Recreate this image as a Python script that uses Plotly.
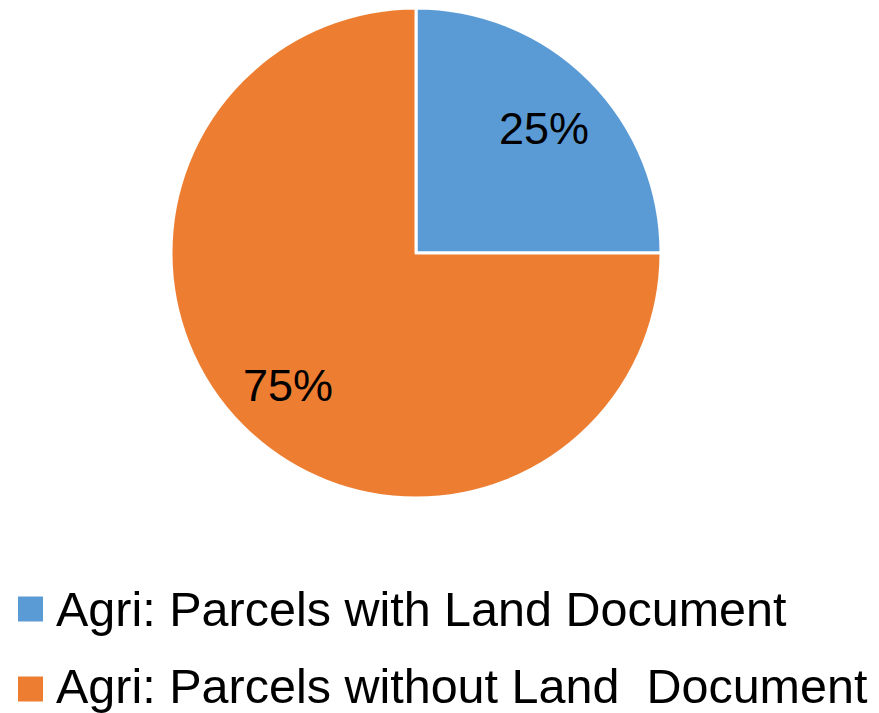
import math
import plotly.graph_objects as go

labels = ["Agri: Parcels with Land Document", "Agri: Parcels without Land  Document"]
values = [25, 75]
colors = ["#5B9BD5", "#ED7D31"]

W, H = 879, 713
font = "Liberation Sans, Arial, sans-serif"

# pie geometry (pixels)
cx, cy, r = 416, 253, 245

fig = go.Figure()
fig.add_trace(go.Pie(
    labels=labels,
    values=values,
    sort=False,
    direction="clockwise",
    rotation=0,
    marker=dict(colors=colors, line=dict(color="white", width=3)),
    textinfo="none",
    showlegend=False,
    hoverinfo="label+percent",
    domain=dict(x=[(cx - r) / W, (cx + r) / W], y=[1 - (cy + r) / H, 1 - (cy - r) / H]),
))

# percentage labels placed on each slice's bisector
total = sum(values)
cum = 0
for v in values:
    mid = (cum + v / 2) / total * 2 * math.pi
    cum += v
    d = 0.74 * r
    px = cx + d * math.sin(mid)
    py = cy - d * math.cos(mid) + 4
    fig.add_annotation(xref="paper", yref="paper", x=px / W, y=1 - py / H,
                       xanchor="center", yanchor="middle", showarrow=False,
                       text=f"{round(v / total * 100)}%",
                       font=dict(family=font, size=45, color="black"))

# Legend drawn manually (large square keys like the original)
rows_y = [609, 686]
keys_y = [609, 689]
for lab, col, yc, yk in zip(labels, colors, rows_y, keys_y):
    fig.add_shape(type="rect", xref="paper", yref="paper",
                  x0=18 / W, x1=43 / W, y0=1 - (yk + 12.5) / H, y1=1 - (yk - 12.5) / H,
                  fillcolor=col, line=dict(width=0))
    fig.add_annotation(xref="paper", yref="paper", x=55 / W, y=1 - yc / H,
                       xanchor="left", yanchor="middle", showarrow=False,
                       borderpad=0,
                       text=lab.replace("  ", " \u00a0"),
                       font=dict(family=font, size=48.5, color="black"))

fig.update_layout(
    width=W, height=H,
    margin=dict(l=0, r=0, t=0, b=0),
    paper_bgcolor="white",
    plot_bgcolor="white",
)

fig.write_html("out.html", config={"displayModeBar": False},
               post_script="document.body.style.margin='0px';document.body.style.overflow='hidden';")
